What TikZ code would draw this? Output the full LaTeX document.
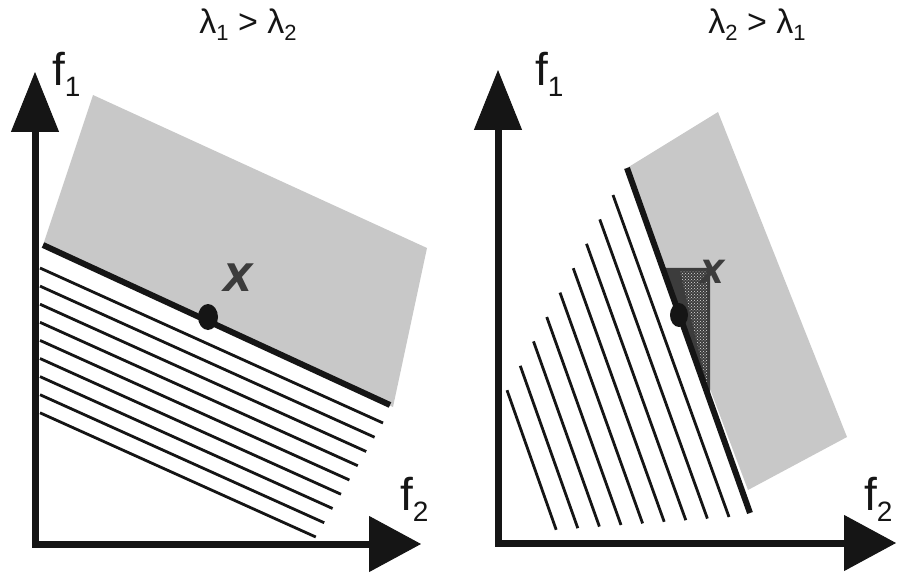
\documentclass[tikz,border=0pt]{standalone}
\usepackage{fontspec}
\setmainfont{Liberation Sans}
\newfontfamily\xfont{DejaVu Sans}
\usetikzlibrary{arrows.meta,patterns,calc}
\definecolor{ink}{HTML}{151515}
\definecolor{regn}{HTML}{C8C8C8}
\definecolor{dark}{HTML}{3C3C3C}
\newcommand{\fsub}[2]{#1\raisebox{-11pt}{\fontsize{28}{28}\selectfont #2}}
\newcommand{\lsub}[1]{λ\raisebox{-7pt}{\fontsize{22}{22}\selectfont #1}}
\tikzset{
  axis/.style={draw=ink,line width=7pt,{Triangle[length=60pt,width=48pt,line width=1pt]}-{Triangle[length=52pt,width=56pt,line width=1pt]}},
  region/.style={fill=regn},
  hatch/.style={draw=ink,line width=2.8pt},
  bound/.style={draw=ink,line width=6pt},
  dotpt/.style={fill=ink},
  flab/.style={font=\fontsize{46}{46}\selectfont,text=ink,anchor=base west,inner sep=0pt},
  ttl/.style={font=\fontsize{34}{34}\selectfont,text=ink},
  xlab/.style={font=\xfont\bfseries\itshape\fontsize{38}{38}\selectfont,text=dark,inner sep=0pt},
}

\begin{document}
\begin{tikzpicture}[x=1pt,y=-1pt]
\useasboundingbox (0,0) rectangle (898,575);
\fill[region] (93,95) -- (427,248) -- (393,407) -- (43,245) -- cycle;
\foreach \i in {0,...,8}
  \draw[hatch] (40,{268+18.1*\i}) -- ({383-8.4*\i},{423+14.25*\i});
\draw[bound] (43,245) -- (390,405);
\fill[dotpt] (208,317) ellipse [x radius=10pt,y radius=13pt];
\node[xlab] (x1) at (238,278) {X};
\draw[axis] (35,72) |- (421,544);
\node[flab] (f1a) at (52,86) {\fsub{f}{1}};
\node[flab] (f2a) at (400,510) {\fsub{f}{2}};
\node[ttl] (t1) at (248,25) {\lsub{1} > \lsub{2}};

\fill[region] (627,168) -- (718,112) -- (847,437) -- (748,490) -- cycle;
\foreach \i in {0,...,8}
  \draw[hatch] ({613-13.25*\i},{195+24.4*\i}) -- ({729-21.6*\i},{517+1.6*\i});
\fill[dark] (662.6,268) -- (710,268) -- (710,400.8) -- cycle;
\fill[pattern=crosshatch dots,pattern color=white!75!gray] (680,271) -- (707,271) -- (707,385) -- cycle;
\draw[bound] (627,168) -- (750,513);
\fill[dotpt] (679,315) ellipse [x radius=9pt,y radius=12pt];
\node[xlab,font=\xfont\bfseries\itshape\fontsize{32}{32}\selectfont] (x2) at (712,272) {X};
\draw[axis] (498,70) |- (896,543);
\node[flab] (f1b) at (535,86) {\fsub{f}{1}};
\node[flab] (f2b) at (864,510) {\fsub{f}{2}};
\node[ttl] (t2) at (757,25) {\lsub{2} > \lsub{1}};
\end{tikzpicture}
\end{document}
